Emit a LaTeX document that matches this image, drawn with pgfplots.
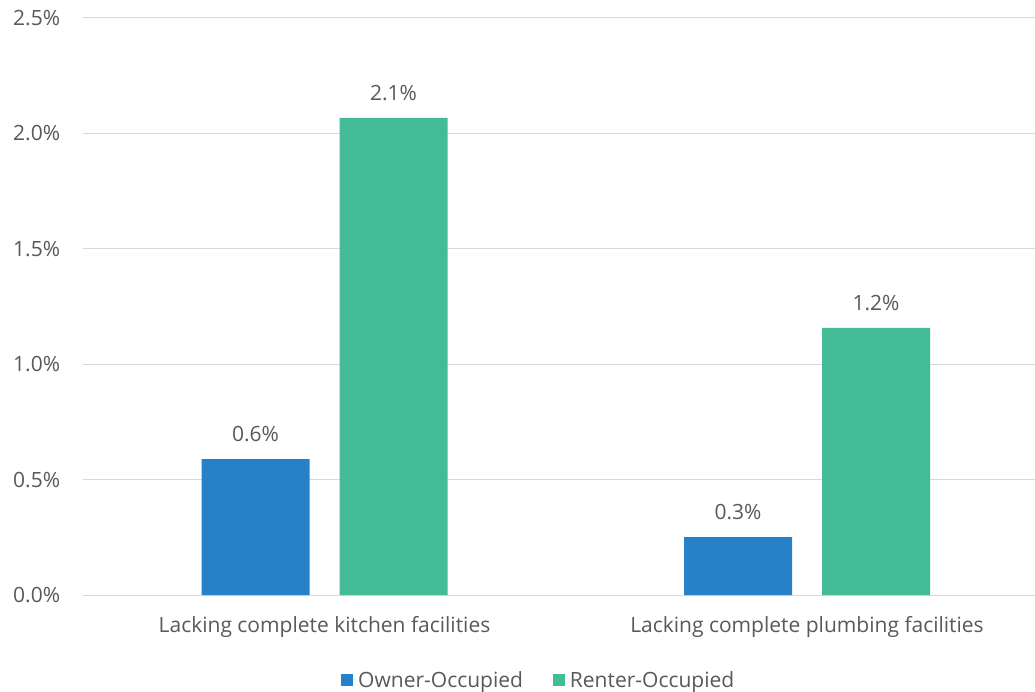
\documentclass[border=0pt]{standalone}
\usepackage{fontspec}
\setmainfont{Open Sans}
\usepackage{pgfplots}
\pgfplotsset{compat=1.18}
\definecolor{owner}{HTML}{2681C8}
\definecolor{renter}{HTML}{43BB96}
\definecolor{txt}{HTML}{595959}
\definecolor{gridgray}{HTML}{D9D9D9}
\begin{document}
\begin{tikzpicture}[font=\fontsize{21}{25}\selectfont]
\begin{axis}[
    scale only axis,
    width=965pt, height=577pt,
    xmin=-0.5, xmax=1.5, ymin=0, ymax=2.5,
    ybar, bar width=108pt,
    axis line style={draw=none},
    ymajorgrids, grid style={gridgray, line width=1pt},
    major tick length=0pt,
    xtick={0,1},
    xticklabels={Lacking complete kitchen facilities, Lacking complete plumbing facilities},
    ytick={0,0.5,1,1.5,2,2.5},
    yticklabel={\pgfmathprintnumber[fixed,fixed zerofill,precision=1]{\tick}\%},
    /pgf/number format/assume math mode=true,
    tick label style={text=txt},
    xticklabel style={anchor=center, yshift=-32pt},
    yticklabel style={anchor=east, inner sep=0pt, xshift=-23pt},
    nodes near coords={\pgfmathprintnumber[fixed,fixed zerofill,precision=1]{\pgfplotspointmeta}\%},
    nodes near coords style={anchor=center, yshift=25pt, text=txt},
    legend columns=2,
    legend style={at={(0.472,-0.147)}, anchor=center, draw=none, text=txt,
        /tikz/every even column/.append style={column sep=28pt}},
    legend image code/.code={\fill[#1] (0pt,-6pt) rectangle (12pt,6pt);
        \path (0pt,0pt) -- (15pt,0pt);},
    clip=false,
]
\addplot[fill=owner, draw=none, bar shift=-69pt] coordinates {(0,0.589) (1,0.251)};
\addplot[fill=renter, draw=none, bar shift=69pt] coordinates {(0,2.067) (1,1.157)};
\legend{Owner-Occupied, Renter-Occupied}
\coordinate (sw) at (rel axis cs:0,0);
\end{axis}
\pgfresetboundingbox
\path (sw) ++(-83.25pt,-96pt) rectangle ++(1035pt,691pt);
\end{tikzpicture}
\end{document}
